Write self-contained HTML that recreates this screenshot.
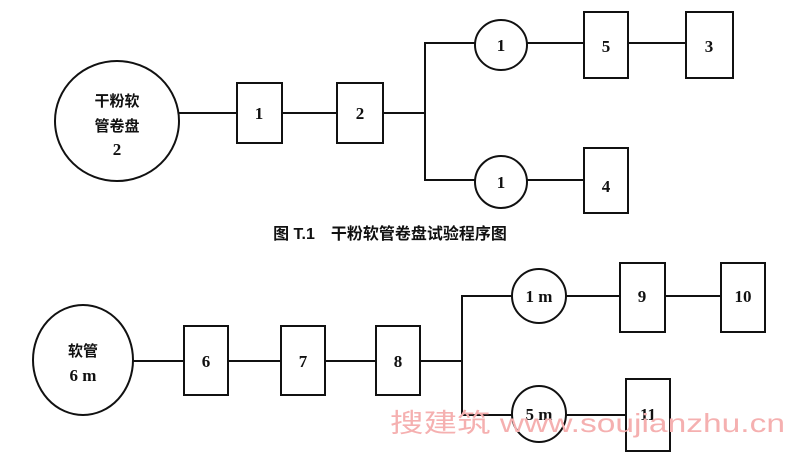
<!DOCTYPE html>
<html><head><meta charset="utf-8"><style>
html,body{margin:0;padding:0;background:#fff;}
svg{display:block;}
text{font-family:"Liberation Serif","Noto Serif CJK SC",serif;fill:#111;}
text.sans{font-family:"Liberation Sans","Noto Sans CJK SC",sans-serif;}
</style></head><body>
<svg width="800" height="453" viewBox="0 0 800 453" xmlns="http://www.w3.org/2000/svg">
<g stroke="#111" stroke-width="2" fill="none">
<ellipse cx="117" cy="121" rx="62" ry="60"/>
<line x1="179" y1="113" x2="237" y2="113"/>
<rect x="237" y="83" width="45" height="60"/>
<line x1="282" y1="113" x2="337" y2="113"/>
<rect x="337" y="83" width="46" height="60"/>
<polyline points="383,113 425,113"/>
<polyline points="475,43 425,43 425,180 475,180"/>
<ellipse cx="501" cy="45" rx="26" ry="25"/>
<ellipse cx="501" cy="182" rx="26" ry="26"/>
<line x1="527" y1="43" x2="584" y2="43"/>
<rect x="584" y="12" width="44" height="66"/>
<line x1="628" y1="43" x2="686" y2="43"/>
<rect x="686" y="12" width="47" height="66"/>
<line x1="527" y1="180" x2="584" y2="180"/>
<rect x="584" y="148" width="44" height="65"/>

<ellipse cx="83" cy="360" rx="50" ry="55"/>
<line x1="133" y1="361" x2="184" y2="361"/>
<rect x="184" y="326" width="44" height="69"/>
<line x1="228" y1="361" x2="281" y2="361"/>
<rect x="281" y="326" width="44" height="69"/>
<line x1="325" y1="361" x2="376" y2="361"/>
<rect x="376" y="326" width="44" height="69"/>
<line x1="420" y1="361" x2="462" y2="361"/>
<polyline points="513,296 462,296 462,415 513,415"/>
<ellipse cx="539" cy="296" rx="27" ry="27"/>
<ellipse cx="539" cy="414" rx="27" ry="28"/>
<line x1="566" y1="296" x2="620" y2="296"/>
<rect x="620" y="263" width="45" height="69"/>
<line x1="665" y1="296" x2="721" y2="296"/>
<rect x="721" y="263" width="44" height="69"/>
<line x1="566" y1="415" x2="626" y2="415"/>
<rect x="626" y="379" width="44" height="72"/>
</g>
<g font-size="17" text-anchor="middle" font-weight="bold">
<text x="117" y="106" class="sans" font-size="15">干粉软</text>
<text x="117" y="131" class="sans" font-size="15">管卷盘</text>
<text x="117" y="155">2</text>
<text x="259" y="119">1</text>
<text x="360" y="119">2</text>
<text x="501" y="51">1</text>
<text x="606" y="52">5</text>
<text x="709" y="52">3</text>
<text x="501" y="188">1</text>
<text x="606" y="192">4</text>
<text x="83" y="356" class="sans" font-size="15">软管</text>
<text x="83" y="381">6 m</text>
<text x="206" y="367">6</text>
<text x="303" y="367">7</text>
<text x="398" y="367">8</text>
<text x="539" y="302">1 m</text>
<text x="642" y="302">9</text>
<text x="743" y="302">10</text>
<text x="539" y="420">5 m</text>
<text x="648" y="420">11</text>
<text x="390" y="239" class="sans" font-size="16">图 T.1　干粉软管卷盘试验程序图</text>
</g>
<text x="390" y="432" class="sans" font-size="26" textLength="395" lengthAdjust="spacingAndGlyphs" style="fill:#f5b0b0">搜建筑 www.soujianzhu.cn</text>
</svg>
</body></html>
